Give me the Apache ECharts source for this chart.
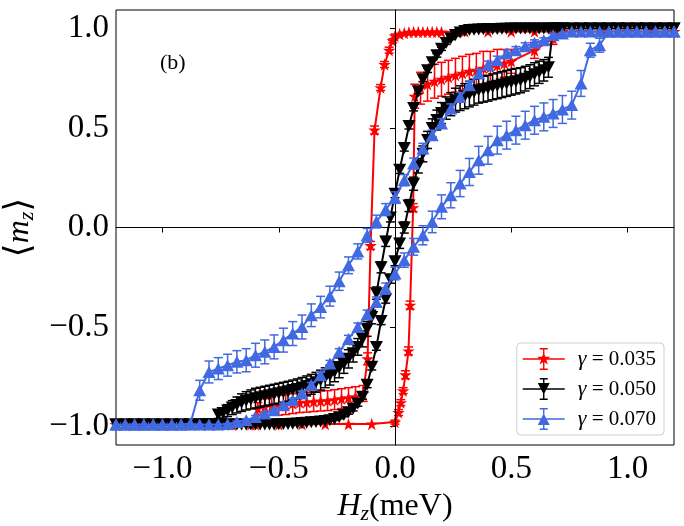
<!DOCTYPE html>
<html>
<head>
<meta charset="utf-8">
<script src="https://cdn.jsdelivr.net/npm/echarts@6.0.0/dist/echarts.min.js"></script>
<style>
  html, body { margin: 0; padding: 0; background: #fff; }
  #chart { width: 684px; height: 526px; }
</style>
</head>
<body>
<div id="chart"></div>
<script>
// each point: [H (meV), <m_z>, error]
// gamma = 0.035, field sweep up then down
const redUp = [
  [-1.2,-0.99,0],[-1.1,-0.99,0],[-1.0,-0.99,0],[-0.9,-0.99,0],[-0.8,-0.99,0],[-0.7,-0.99,0],
  [-0.6,-0.99,0],[-0.5,-0.99,0],[-0.4,-0.989,0],[-0.3,-0.988,0],[-0.2,-0.988,0],[-0.1,-0.987,0],
  [0.0,-0.978,0.01],[0.015,-0.93,0.015],[0.025,-0.88,0.015],[0.035,-0.82,0.015],[0.045,-0.74,0.02],
  [0.058,-0.62,0.02],[0.065,-0.39,0.02],[0.078,0.10,0.02],
  [0.085,0.66,0.06],[0.11,0.70,0.08],[0.14,0.72,0.085],[0.17,0.735,0.085],[0.20,0.745,0.085],
  [0.23,0.755,0.085],[0.26,0.765,0.085],[0.29,0.775,0.085],[0.32,0.785,0.085],[0.35,0.79,0.085],
  [0.38,0.80,0.085],[0.41,0.805,0.08],[0.44,0.815,0.08],[0.47,0.825,0.07],[0.50,0.835,0.06],
  [0.60,0.89,0.04],[0.68,0.95,0.03],[0.72,0.985,0],[0.8,0.985,0],[0.9,0.985,0],[1.0,0.985,0],
  [1.1,0.985,0],[1.2,0.985,0]
];
const redDown = [
  [1.2,0.985,0],[1.1,0.985,0],[1.0,0.985,0],[0.9,0.985,0],[0.8,0.985,0],[0.7,0.985,0],[0.6,0.985,0],
  [0.5,0.985,0],[0.4,0.985,0],[0.3,0.985,0],[0.2,0.983,0],[0.18,0.983,0],[0.16,0.983,0],[0.14,0.983,0],
  [0.12,0.983,0],[0.1,0.982,0],[0.08,0.982,0],[0.06,0.981,0],[0.04,0.978,0],[0.02,0.972,0],
  [0.0,0.962,0.01],[-0.01,0.938,0.01],[-0.025,0.891,0.015],[-0.045,0.819,0.015],[-0.062,0.703,0.015],
  [-0.088,0.49,0.02],[-0.105,-0.09,0.02],[-0.118,-0.66,0.03],[-0.137,-0.834,0.04],
  [-0.17,-0.85,0.05],[-0.2,-0.855,0.05],[-0.23,-0.86,0.05],[-0.26,-0.865,0.05],[-0.29,-0.87,0.05],
  [-0.32,-0.872,0.05],[-0.35,-0.875,0.05],[-0.38,-0.878,0.05],[-0.41,-0.88,0.05],[-0.44,-0.885,0.05],
  [-0.47,-0.89,0.05],[-0.5,-0.893,0.05],[-0.53,-0.897,0.045],[-0.56,-0.9,0.04],[-0.59,-0.91,0.03],
  [-0.62,-0.99,0],[-0.7,-0.99,0],[-0.8,-0.99,0],[-0.9,-0.99,0],[-1.0,-0.99,0],[-1.1,-0.99,0],[-1.2,-0.99,0]
];

// gamma = 0.050
const blackUp = [
  [-1.2,-0.99,0],[-1.16,-0.99,0],[-1.12,-0.99,0],[-1.08,-0.99,0],[-1.04,-0.99,0],[-1.0,-0.99,0],
  [-0.96,-0.99,0],[-0.92,-0.99,0],[-0.88,-0.99,0],[-0.84,-0.99,0],
  [-0.82,-0.99,0],[-0.8,-0.99,0],[-0.78,-0.99,0],[-0.76,-0.99,0],[-0.74,-0.99,0],[-0.72,-0.99,0],
  [-0.7,-0.99,0],[-0.68,-0.99,0],[-0.66,-0.99,0],[-0.64,-0.99,0],[-0.62,-0.99,0],[-0.6,-0.99,0],
  [-0.58,-0.99,0],[-0.56,-0.99,0],[-0.54,-0.99,0],[-0.52,-0.99,0],[-0.5,-0.989,0],[-0.48,-0.988,0],
  [-0.46,-0.987,0],[-0.44,-0.986,0],[-0.42,-0.985,0],[-0.4,-0.983,0],[-0.38,-0.981,0],[-0.36,-0.979,0],
  [-0.34,-0.977,0.005],[-0.32,-0.975,0.005],[-0.3,-0.972,0.005],[-0.28,-0.968,0.006],[-0.26,-0.962,0.007],
  [-0.24,-0.953,0.008],[-0.22,-0.942,0.009],[-0.2,-0.928,0.01],[-0.18,-0.91,0.012],[-0.16,-0.885,0.013],
  [-0.14,-0.85,0.014],[-0.12,-0.79,0.015],[-0.1,-0.70,0.016],[-0.08,-0.60,0.017],[-0.06,-0.47,0.018],
  [-0.04,-0.36,0.02],[-0.02,-0.26,0.02],[0.0,-0.17,0.022],[0.02,-0.08,0.025],[0.04,0.0,0.028],
  [0.06,0.11,0.03],[0.08,0.22,0.033],[0.1,0.31,0.036],[0.12,0.37,0.04],[0.14,0.44,0.043],
  [0.16,0.5,0.046],[0.18,0.54,0.05],[0.2,0.575,0.053],[0.22,0.6,0.056],[0.24,0.62,0.058],
  [0.26,0.64,0.06],[0.28,0.65,0.062],[0.3,0.66,0.063],[0.32,0.67,0.064],[0.34,0.68,0.065],
  [0.36,0.69,0.065],[0.38,0.695,0.065],[0.4,0.7,0.065],[0.42,0.707,0.065],[0.44,0.712,0.065],
  [0.46,0.718,0.065],[0.48,0.724,0.065],[0.5,0.73,0.065],[0.52,0.735,0.064],[0.54,0.74,0.063],
  [0.56,0.748,0.062],[0.58,0.758,0.06],[0.6,0.77,0.058],[0.62,0.78,0.056],[0.64,0.79,0.054],
  [0.66,0.805,0.05],
  [0.68,1.0,0],[0.7,1.0,0],[0.72,1.0,0],[0.76,1.0,0],[0.8,1.0,0],[0.84,1.0,0],[0.88,1.0,0],
  [0.92,1.0,0],[0.96,1.0,0],[1.0,1.0,0],[1.04,1.0,0],[1.08,1.0,0],[1.12,1.0,0],[1.16,1.0,0],[1.2,1.0,0]
];
const blackDown = [
  [1.2,1.0,0],[1.16,1.0,0],[1.12,1.0,0],[1.08,1.0,0],[1.04,1.0,0],[1.0,1.0,0],[0.96,1.0,0],
  [0.92,1.0,0],[0.88,1.0,0],[0.84,1.0,0],[0.8,1.0,0],[0.76,1.0,0],[0.72,1.0,0],
  [0.7,1.0,0],[0.68,1.0,0],[0.66,1.0,0],[0.64,1.0,0],[0.62,1.0,0],[0.6,1.0,0],[0.58,1.0,0],
  [0.56,1.0,0],[0.54,1.0,0],[0.52,1.0,0],[0.5,1.0,0],[0.48,0.999,0],[0.46,0.999,0],[0.44,0.998,0],
  [0.42,0.998,0],[0.4,0.997,0],[0.38,0.996,0],[0.36,0.995,0],[0.34,0.994,0],[0.32,0.992,0],
  [0.3,0.988,0.003],[0.28,0.98,0.004],[0.26,0.967,0.005],[0.24,0.95,0.006],[0.22,0.927,0.007],
  [0.2,0.898,0.008],[0.18,0.865,0.009],[0.16,0.83,0.01],[0.14,0.79,0.011],[0.12,0.745,0.012],
  [0.1,0.685,0.013],[0.08,0.6,0.014],[0.06,0.51,0.015],[0.04,0.4,0.016],[0.02,0.29,0.018],
  [0.0,0.17,0.02],[-0.02,0.05,0.022],[-0.04,-0.07,0.025],[-0.06,-0.2,0.028],[-0.08,-0.33,0.031],
  [-0.1,-0.45,0.034],[-0.12,-0.51,0.037],[-0.14,-0.56,0.04],[-0.16,-0.6,0.042],[-0.18,-0.632,0.044],
  [-0.2,-0.66,0.046],[-0.22,-0.685,0.048],[-0.24,-0.705,0.05],[-0.26,-0.725,0.05],[-0.28,-0.742,0.05],
  [-0.3,-0.755,0.05],[-0.32,-0.767,0.05],[-0.34,-0.778,0.05],[-0.36,-0.788,0.05],[-0.38,-0.796,0.05],
  [-0.4,-0.804,0.05],[-0.42,-0.811,0.05],[-0.44,-0.817,0.05],[-0.46,-0.823,0.05],[-0.48,-0.828,0.05],
  [-0.5,-0.833,0.05],[-0.52,-0.838,0.05],[-0.54,-0.843,0.05],[-0.56,-0.848,0.05],[-0.58,-0.853,0.05],
  [-0.6,-0.858,0.05],[-0.62,-0.864,0.048],[-0.64,-0.871,0.046],[-0.66,-0.88,0.044],[-0.68,-0.892,0.04],
  [-0.7,-0.905,0.035],[-0.72,-0.92,0.03],[-0.74,-0.932,0.025],[-0.76,-0.94,0.02],
  [-0.78,-0.99,0],[-0.8,-0.99,0],[-0.82,-0.99,0],[-0.84,-0.99,0],[-0.88,-0.99,0],[-0.92,-0.99,0],
  [-0.96,-0.99,0],[-1.0,-0.99,0],[-1.04,-0.99,0],[-1.08,-0.99,0],[-1.12,-0.99,0],[-1.16,-0.99,0],[-1.2,-0.99,0]
];

// gamma = 0.070
const blueUp = [
  [-1.2,-0.99,0],[-1.16,-0.99,0],[-1.12,-0.99,0],[-1.08,-0.99,0],[-1.04,-0.99,0],[-1.0,-0.99,0],
  [-0.96,-0.99,0],[-0.92,-0.99,0],[-0.88,-0.99,0],[-0.84,-0.99,0],[-0.8,-0.99,0],[-0.76,-0.99,0],
  [-0.72,-0.988,0.003],[-0.68,-0.977,0.005],[-0.64,-0.968,0.006],[-0.6,-0.952,0.007],[-0.56,-0.935,0.008],
  [-0.52,-0.918,0.009],[-0.48,-0.893,0.01],[-0.44,-0.868,0.011],[-0.4,-0.834,0.012],[-0.36,-0.792,0.013],
  [-0.32,-0.742,0.014],[-0.28,-0.683,0.015],[-0.24,-0.625,0.016],[-0.2,-0.56,0.018],[-0.16,-0.5,0.02],
  [-0.12,-0.437,0.022],[-0.08,-0.374,0.025],[-0.04,-0.307,0.028],[0.0,-0.231,0.032],[0.04,-0.164,0.036],
  [0.08,-0.097,0.042],[0.12,-0.039,0.048],[0.16,0.028,0.054],[0.2,0.104,0.06],[0.24,0.162,0.063],
  [0.28,0.221,0.066],[0.32,0.279,0.068],[0.36,0.338,0.07],[0.4,0.388,0.07],[0.44,0.439,0.07],
  [0.48,0.464,0.07],[0.52,0.489,0.07],[0.56,0.514,0.07],[0.6,0.539,0.07],[0.64,0.556,0.07],
  [0.68,0.573,0.07],[0.72,0.593,0.07],[0.76,0.615,0.07],[0.8,0.724,0.065],[0.84,0.891,0.035],
  [0.88,0.916,0.035],[0.92,0.985,0],[0.96,0.985,0],[1.0,0.985,0],[1.04,0.985,0],[1.08,0.985,0],
  [1.12,0.985,0],[1.16,0.985,0],[1.2,0.985,0]
];
const blueDown = [
  [1.2,0.985,0],[1.16,0.985,0],[1.12,0.985,0],[1.08,0.985,0],[1.04,0.985,0],[1.0,0.985,0],
  [0.96,0.985,0],[0.92,0.985,0],[0.88,0.985,0],[0.84,0.985,0],[0.8,0.985,0],[0.76,0.985,0],
  [0.72,0.975,0.005],[0.68,0.966,0.008],[0.64,0.941,0.012],[0.6,0.928,0.015],[0.56,0.911,0.017],
  [0.52,0.891,0.018],[0.48,0.874,0.019],[0.44,0.841,0.02],[0.4,0.816,0.02],[0.36,0.774,0.02],
  [0.32,0.715,0.021],[0.28,0.656,0.022],[0.24,0.598,0.023],[0.2,0.523,0.024],[0.16,0.464,0.025],
  [0.12,0.397,0.026],[0.08,0.322,0.027],[0.04,0.238,0.028],[0.0,0.15,0.029],[-0.04,0.09,0.03],
  [-0.08,0.03,0.032],[-0.12,-0.04,0.035],[-0.16,-0.12,0.038],[-0.2,-0.19,0.042],[-0.24,-0.27,0.046],
  [-0.28,-0.345,0.05],[-0.32,-0.4,0.054],[-0.36,-0.441,0.057],[-0.4,-0.5,0.06],[-0.44,-0.533,0.06],
  [-0.48,-0.566,0.06],[-0.52,-0.6,0.06],[-0.56,-0.625,0.06],[-0.6,-0.642,0.06],[-0.64,-0.667,0.058],
  [-0.68,-0.675,0.056],[-0.72,-0.692,0.055],[-0.76,-0.709,0.055],[-0.8,-0.726,0.055],[-0.84,-0.818,0.05],
  [-0.88,-0.985,0],[-0.92,-0.99,0],[-0.96,-0.99,0],[-1.0,-0.99,0],[-1.04,-0.99,0],[-1.08,-0.99,0],
  [-1.12,-0.99,0],[-1.16,-0.99,0],[-1.2,-0.99,0]
];

const tickValues = [-1, -0.5, 0, 0.5, 1];
const gammaNames = ['γ = 0.035', 'γ = 0.050', 'γ = 0.070'];

const FONT = '"Liberation Serif", "DejaVu Serif", serif';
const STAR = 'path://M0,-10 L2.245,-3.09 L9.51,-3.09 L3.633,1.18 L5.88,8.09 L0,3.82 L-5.88,8.09 L-3.633,1.18 L-9.51,-3.09 L-2.245,-3.09 Z';

// legend glyphs: line + error bar + marker
const ICON_BASE = 'M0,10.2 L42,10.2 L42,11.8 L0,11.8 Z M20.3,0 L21.7,0 L21.7,22 L20.3,22 Z ' +
  'M17,0 L25,0 L25,1.4 L17,1.4 Z M17,20.6 L25,20.6 L25,22 L17,22 Z ';
const ICON_STAR = 'path://' + ICON_BASE +
  'M21,4 L22.6,8.8 L27.7,8.8 L23.6,11.8 L25.1,16.6 L21,13.7 L16.9,16.6 L18.4,11.8 L14.3,8.8 L19.4,8.8 Z';
const ICON_DOWN = 'path://' + ICON_BASE + 'M15,5 L27,5 L21,16.5 Z';
const ICON_UP = 'path://' + ICON_BASE + 'M15,17 L21,5.5 L27,17 Z';

const groups = [
  { name: gammaNames[0], color: '#ff0000', up: redUp, down: redDown, symbol: STAR, size: 12.5, rotate: 0, icon: ICON_STAR },
  { name: gammaNames[1], color: '#000000', up: blackUp, down: blackDown, symbol: 'triangle', size: [13, 12], rotate: 180, icon: ICON_DOWN },
  { name: gammaNames[2], color: '#4169e1', up: blueUp, down: blueDown, symbol: 'triangle', size: [13, 12], rotate: 0, icon: ICON_UP }
];

function renderBar(params, api) {
  const x = api.value(0);
  const lo = api.coord([x, api.value(1)]);
  const hi = api.coord([x, api.value(2)]);
  const c = 4.5;
  const style = { stroke: api.visual('color'), lineWidth: 1.5 };
  return {
    type: 'group',
    children: [
      { type: 'line', shape: { x1: hi[0], y1: hi[1], x2: lo[0], y2: lo[1] }, style: style },
      { type: 'line', shape: { x1: hi[0] - c, y1: hi[1], x2: hi[0] + c, y2: hi[1] }, style: style },
      { type: 'line', shape: { x1: lo[0] - c, y1: lo[1], x2: lo[0] + c, y2: lo[1] }, style: style }
    ]
  };
}

const series = [{
  type: 'line',
  data: [],
  z: 1,
  silent: true,
  markLine: {
    silent: true,
    symbol: 'none',
    label: { show: false },
    lineStyle: { color: '#000', width: 1, type: 'solid' },
    data: [{ xAxis: 0 }, { yAxis: 0 }]
  }
}];

groups.forEach((g, i) => {
  const pts = g.up.concat(g.down);
  series.push({
    type: 'custom',
    z: 2 + i * 2,
    silent: true,
    itemStyle: { color: g.color },
    renderItem: renderBar,
    encode: { x: 0, y: [1, 2] },
    data: pts.filter(p => p[2] > 0).map(p => [p[0], p[1] - p[2], p[1] + p[2]])
  });
  series.push({
    name: g.name,
    type: 'line',
    z: 3 + i * 2,
    color: g.color,
    data: pts.map(p => [p[0], p[1]]),
    symbol: g.symbol,
    symbolSize: g.size,
    symbolRotate: g.rotate,
    showSymbol: true,
    showAllSymbol: true,
    lineStyle: { width: 2, color: g.color },
    itemStyle: { color: g.color, borderWidth: 0 }
  });
});

const chart = echarts.init(document.getElementById('chart'));
const option = {
  animation: false,
  backgroundColor: '#fff',
  grid: { left: 116, right: 10, top: 10, bottom: 81, show: true, borderColor: '#000', borderWidth: 1, outerBoundsMode: 'none' },
  xAxis: {
    type: 'value',
    min: -1.2,
    max: 1.2,
    name: '{h|H}{s|z}{t|(meV)}',
    nameLocation: 'middle',
    nameGap: 30,
    nameTextStyle: {
      color: '#000',
      rich: {
        h: { fontFamily: FONT, fontSize: 32, fontStyle: 'italic', color: '#000' },
        s: { fontFamily: FONT, fontSize: 22, fontStyle: 'italic', color: '#000', padding: [14, 0, 0, 0] },
        t: { fontFamily: FONT, fontSize: 32, color: '#000' }
      }
    },
    axisLine: { lineStyle: { color: '#000', width: 1 } },
    axisTick: { length: 5, lineStyle: { color: '#000' }, customValues: tickValues },
    splitLine: { show: false },
    axisLabel: {
      customValues: tickValues,
      color: '#000',
      fontFamily: FONT,
      fontSize: 33,
      margin: 8,
      formatter: v => (v < 0 ? '\u2212' : '') + Math.abs(v).toFixed(1)
    }
  },
  yAxis: {
    type: 'value',
    min: -1.093,
    max: 1.093,
    name: '{a|⟨}{m|m}{s|z}{a|⟩}',
    nameLocation: 'middle',
    nameRotate: 90,
    nameGap: 78,
    nameTextStyle: {
      color: '#000',
      rich: {
        a: { fontFamily: FONT, fontSize: 36, color: '#000' },
        m: { fontFamily: FONT, fontSize: 32, fontStyle: 'italic', color: '#000' },
        s: { fontFamily: FONT, fontSize: 22, fontStyle: 'italic', color: '#000', padding: [14, 0, 0, 0] }
      }
    },
    axisLine: { show: true, lineStyle: { color: '#000', width: 1 } },
    axisTick: { show: true, length: 5, lineStyle: { color: '#000' }, customValues: tickValues },
    splitLine: { show: false },
    axisLabel: {
      customValues: tickValues,
      color: '#000',
      fontFamily: FONT,
      fontSize: 33,
      margin: 7,
      formatter: v => (v < 0 ? '\u2212' : '') + Math.abs(v).toFixed(1)
    }
  },
  legend: {
    orient: 'vertical',
    right: 20,
    bottom: 91,
    selectedMode: false,
    backgroundColor: 'rgba(255,255,255,0.8)',
    borderColor: '#d0d0d0',
    borderWidth: 1,
    borderRadius: 4,
    padding: [5, 8, 5, 6],
    itemGap: 8,
    itemWidth: 42,
    itemHeight: 22,
    itemStyle: { borderWidth: 0 },
    data: groups.map(g => ({ name: g.name, icon: g.icon })),
    formatter: name => '{g|γ}{t| = ' + name.split('= ')[1] + '}',
    textStyle: {
      color: '#000',
      fontFamily: FONT,
      fontSize: 21,
      padding: [0, 0, 0, 8],
      rich: {
        g: { fontFamily: FONT, fontSize: 22, fontStyle: 'italic', color: '#000' },
        t: { fontFamily: FONT, fontSize: 21, color: '#000' }
      }
    }
  },
  graphic: [{
    type: 'text',
    left: 160,
    top: 52,
    style: { text: '(b)', font: '22px "Liberation Serif"', fill: '#000' }
  }],
  series: series
};
chart.setOption(option);
</script>
</body>
</html>
